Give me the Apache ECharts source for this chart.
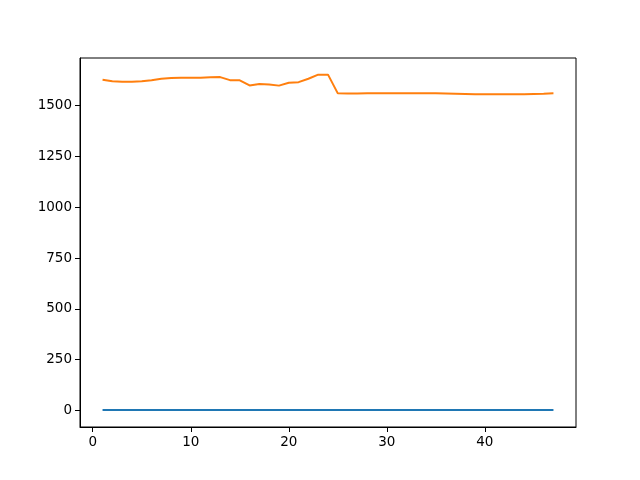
<!DOCTYPE html>
<html>
<head>
<meta charset="utf-8">
<script src="https://cdn.jsdelivr.net/npm/echarts@6/dist/echarts.min.js"></script>
<style>html,body{margin:0;padding:0;background:#fff;}#c{width:640px;height:480px;}</style>
</head>
<body>
<div id="c"></div>
<script>
var xValues = [1,2,3,4,5,6,7,8,9,10,11,12,13,14,15,16,17,18,19,20,21,22,23,24,25,26,27,28,29,30,31,32,33,34,35,36,37,38,39,40,41,42,43,44,45,46,47];
var seriesBlue = [2,2,2,2,2,2,2,2,2,2,2,2,2,2,2,2,2,2,2,2,2,2,2,2,2,2,2,2,2,2,2,2,2,2,2,2,2,2,2,2,2,2,2,2,2,2,2];
var seriesOrange = [1628,1621,1618,1618,1620,1625,1633,1636,1638,1638,1638,1640,1641,1626,1625,1600,1607,1605,1599,1613,1616,1633,1653,1653,1561,1560,1560,1561,1562,1562,1562,1562,1562,1561,1561,1560,1559,1558,1557,1557,1556,1556,1556,1557,1558,1559,1561];
var xTicks = [0,10,20,30,40];
var yTicks = [0,250,500,750,1000,1250,1500];

function pairs(xs, ys){ return xs.map(function(x,i){ return [x, ys[i]]; }); }
function plain(v){ return String(v); }

var chart = echarts.init(document.getElementById('c'), null, {renderer:'canvas'});
var font = 'DejaVu Sans';
chart.setOption({
  animation: false,
  backgroundColor: '#fff',
  grid: {left: 80, right: 64, top: 58, bottom: 53, show: true, borderColor: '#000', borderWidth: 1, backgroundColor: 'transparent'},
  xAxis: {
    type: 'value', min: -1.3, max: 49.3,
    splitLine: {show: false},
    axisLine: {show: true, onZero: false, lineStyle: {color: '#000', width: 1}},
    axisTick: {show: true, customValues: xTicks, length: 5, lineStyle: {color: '#000'}},
    axisLabel: {customValues: xTicks, formatter: plain, color: '#000', fontFamily: font, fontSize: 13.5, margin: 8}
  },
  yAxis: {
    type: 'value', min: -81.6, max: 1735,
    splitLine: {show: false},
    axisLine: {show: true, onZero: false, lineStyle: {color: '#000', width: 1}},
    axisTick: {show: true, customValues: yTicks, length: 5, lineStyle: {color: '#000'}},
    axisLabel: {customValues: yTicks, formatter: plain, color: '#000', fontFamily: font, fontSize: 13.5, margin: 8}
  },
  series: [
    {type: 'line', data: pairs(xValues, seriesBlue), showSymbol: false, lineStyle: {color: '#1f77b4', width: 2}, itemStyle: {color: '#1f77b4'}},
    {type: 'line', data: pairs(xValues, seriesOrange), showSymbol: false, lineStyle: {color: '#ff7f0e', width: 2}, itemStyle: {color: '#ff7f0e'}}
  ]
});
</script>
</body>
</html>
